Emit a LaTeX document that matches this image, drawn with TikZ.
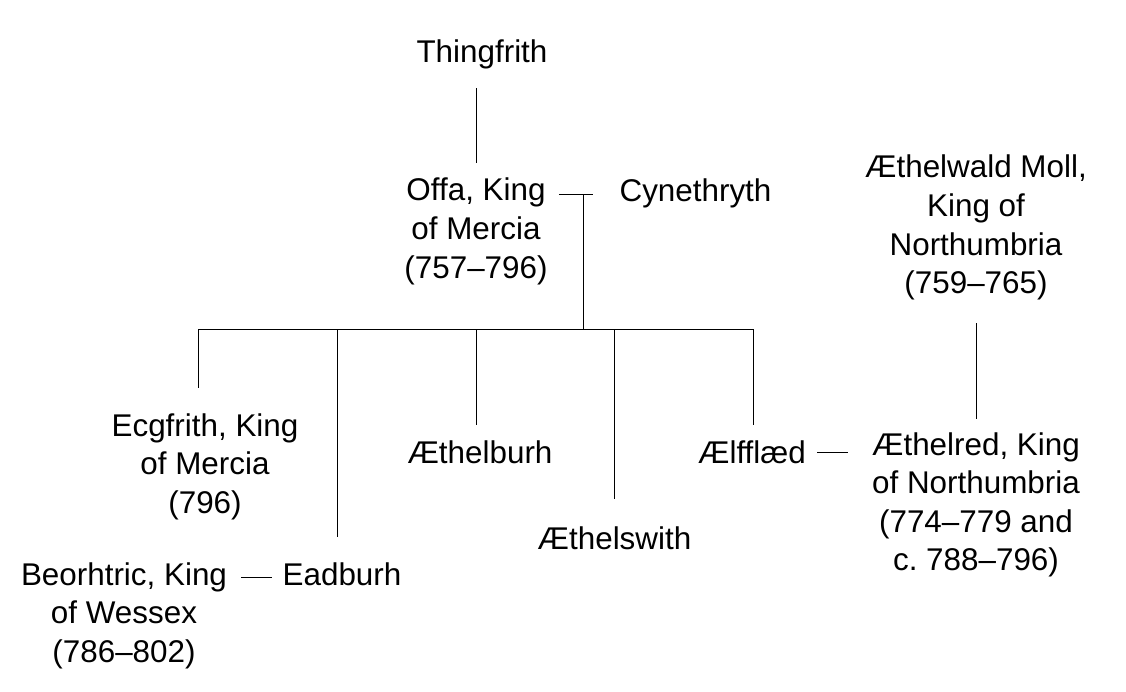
\documentclass[tikz,border=0pt]{standalone}
\usepackage{fontspec}
\setmainfont{Liberation Sans}

\tikzset{
  person/.style={anchor=base, align=center, inner sep=0pt, font=\fontsize{31.4}{38.6}\selectfont},
  kin/.style={line width=1pt}
}

\begin{document}
\begin{tikzpicture}[x=1pt, y=-1pt]
                \useasboundingbox (0,0) rectangle (1126,692);

                % People (base = last line):
                \node[person] (thing) at (482,63) {Thingfrith};
                \node[person] (offa) at (476,278.2) {Offa, King\\of Mercia\\(757--796)};
                \node[person] (cyn) at (695.5,202) {Cynethryth};
                \node[person] (ecg) at (205,513.2) {Ecgfrith, King\\of Mercia\\(796)};
                \node[person] (beo) at (124,662.2) {Beorhtric, King\\of Wessex\\(786--802)};
                \node[person] (ead) at (342,585) {Eadburh};
                \node[person] (ethb) at (480,463) {Æthelburh};
                \node[person] (eths) at (614.5,549) {Æthelswith};
                \node[person] (alf) at (752,463) {Ælfflæd};
                \node[person] (ethw) at (976,293.8) {Æthelwald Moll,\\King of\\Northumbria\\(759--765)};
                \node[person] (ethr) at (976,570.8) {Æthelred, King\\of Northumbria\\(774--779 and\\c.\ 788--796)};

                % Junctions:
                \coordinate (m1) at (583,195);
                \coordinate (m2) at ([yshift=8pt]ead.base west);
                \coordinate (m3) at ([yshift=11pt]alf.base east);
                \coordinate (bar) at (583,329);
                \coordinate (b1) at (198,329);
                \coordinate (b2) at (337,329);
                \coordinate (b3) at (476,329);
                \coordinate (b4) at (614,329);
                \coordinate (b5) at (753,329);

                % Descent and marriages:
                \draw[kin, shorten <=18.5pt, shorten >=15pt] (offa.north |- thing.south) -- (offa.north);
                \draw[kin, shorten <=11pt, shorten >=26pt] (m1 -| offa.east) -- (m1 -| cyn.west);
                \draw[kin] (m1) -- (bar);
                \draw[kin] (b1) -- (b5);
                \draw[kin, shorten >=25pt] (b1) -- (b1 |- ecg.north);
                \draw[kin, shorten >=25pt] (b2) -- (b2 |- ead.north);
                \draw[kin, shorten >=15pt] (b3) -- (b3 |- ethb.north);
                \draw[kin, shorten >=27pt] (b4) -- (b4 |- eths.north);
                \draw[kin, shorten >=15pt] (b5) -- (b5 |- alf.north);
                \draw[kin, shorten <=14pt, shorten >=10pt] (m2 -| beo.east) -- (m2);
                \draw[kin, shorten <=11pt, shorten >=24pt] (m3) -- (m3 -| ethr.west);
                \draw[kin, shorten <=22.5pt, shorten >=13pt] (ethw.south) -- (ethr.north);
            \end{tikzpicture}
\end{document}
